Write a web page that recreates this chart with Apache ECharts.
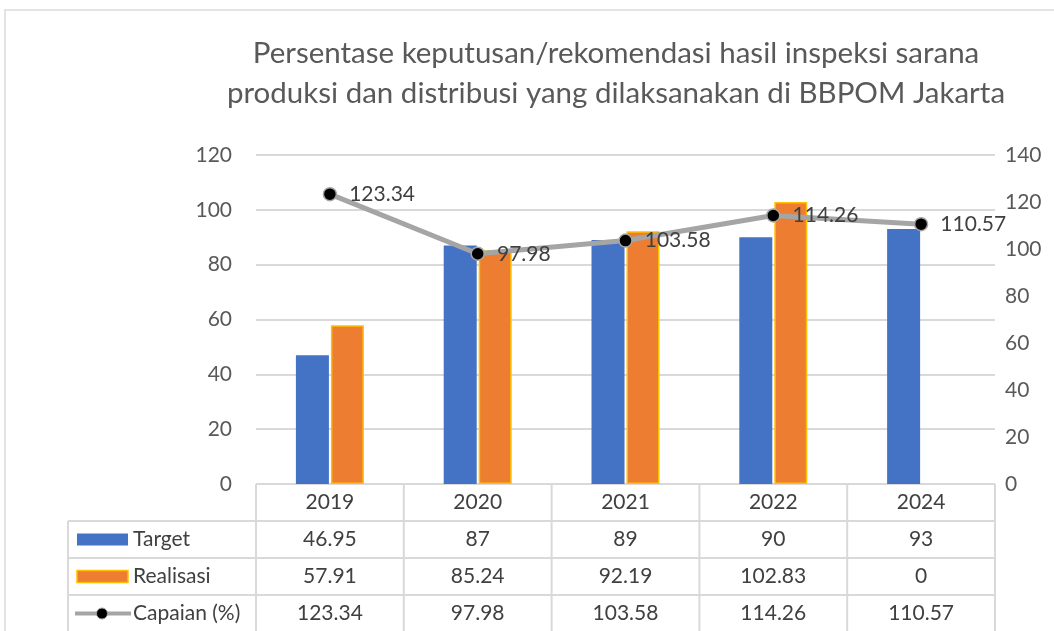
<!DOCTYPE html>
<html>
<head>
<meta charset="utf-8">
<script src="https://cdn.jsdelivr.net/npm/echarts@6/dist/echarts.min.js"></script>
<style>
html,body{margin:0;padding:0;background:#fff;}
#main{width:1054px;height:631px;}
</style>
</head>
<body>
<div id="main"></div>
<script>
// data
var years = ["2019", "2020", "2021", "2022", "2024"];
var target = [46.95, 87, 89, 90, 93];
var realisasi = [57.91, 85.24, 92.19, 102.83, 0];
var capaian = [123.34, 97.98, 103.58, 114.26, 110.57];
var seriesNames = ["Target", "Realisasi", "Capaian (%)"];

var FONT = "Lato";
var TXT = "#595959";
var LINE = "#D9D9D9";

// plot area
var gl = 256, gr = 995, gt = 155, gb = 484;
var colW = (gr - gl) / years.length;
var rowH = 37;
var legX = 68;

var myChart = echarts.init(document.getElementById("main"));

//表格
function buildTable() {
	var g = [];
	// outer frame
	g.push({type: "rect", shape: {x: 5, y: 10, width: 1100, height: 700}, style: {fill: null, stroke: "#E3E3E3", lineWidth: 2}, silent: true});
	g.push({type: "line", shape: {x1: gl, y1: gb, x2: gr, y2: gb}, style: {stroke: LINE, lineWidth: 2}});
	for (var i = 0; i <= years.length; i++) {
		var x = gl + i * colW;
		g.push({type: "line", shape: {x1: x, y1: gb, x2: x, y2: 640}, style: {stroke: LINE, lineWidth: 2}});
	}
	for (var r = 1; r <= 3; r++) {
		var y = gb + r * rowH;
		g.push({type: "line", shape: {x1: legX, y1: y, x2: gr, y2: y}, style: {stroke: LINE, lineWidth: 2}});
	}
	g.push({type: "line", shape: {x1: legX, y1: gb + rowH, x2: legX, y2: 640}, style: {stroke: LINE, lineWidth: 2}});
	// year labels
	for (var a = 0; a < years.length; a++) {
		g.push(cellText(gl + (a + 0.5) * colW, gb + rowH / 2, years[a], "center"));
	}
	var rows = [target, realisasi, capaian];
	for (var k = 0; k < rows.length; k++) {
		var cy = gb + (k + 1.5) * rowH;
		for (var j = 0; j < rows[k].length; j++) {
			g.push(cellText(gl + (j + 0.5) * colW, cy, String(rows[k][j]), "center"));
		}
		g.push(cellText(133, cy, seriesNames[k], "left"));
	}
	// legend keys
	var ky1 = gb + 1.5 * rowH, ky2 = gb + 2.5 * rowH, ky3 = gb + 3.5 * rowH;
	g.push({type: "rect", shape: {x: 77, y: ky1 - 6, width: 51, height: 12}, style: {fill: "#4472C4"}});
	g.push({type: "rect", shape: {x: 77, y: ky2 - 6, width: 51, height: 12}, style: {fill: "#ED7D31", stroke: "#FFC000", lineWidth: 1.5}});
	g.push({type: "line", shape: {x1: 75, y1: ky3, x2: 131, y2: ky3}, style: {stroke: "#A5A5A5", lineWidth: 4}});
	g.push({type: "circle", shape: {cx: 102, cy: ky3, r: 5.5}, style: {fill: "#000", stroke: "#A5A5A5", lineWidth: 1}});
	return g;
}
function cellText(x, y, t, align) {
	return {type: "text", x: x, y: y, style: {text: t, fill: "#404040", font: "21px " + FONT, align: align, verticalAlign: "middle"}};
}

var axisLbl = {color: TXT, fontSize: 21, fontFamily: FONT};

// bar with value 0 has no border
var realData = realisasi.map(function(v) {
	return v === 0 ? {value: v, itemStyle: {borderWidth: 0}} : v;
});

myChart.setOption({
	backgroundColor: "#fff",
	animation: false,
	title: {
		text: "Persentase keputusan/rekomendasi hasil inspeksi sarana\nproduksi dan distribusi yang dilaksanakan di BBPOM Jakarta",
		left: 611,
		top: 28,
		textAlign: "center",
		textStyle: {color: TXT, fontSize: 29.5, fontWeight: "normal", fontFamily: FONT, lineHeight: 40}
	},
	grid: {left: gl, right: 1054 - gr, top: gt, bottom: 631 - gb, containLabel: false},
	xAxis: {
		type: "category",
		data: years,
		axisLabel: {show: false},
		axisTick: {show: false},
		axisLine: {show: false}
	},
	yAxis: [{
		type: "value", min: 0, max: 120, interval: 20,
		axisLabel: Object.assign({margin: 24}, axisLbl),
		splitLine: {lineStyle: {color: LINE, width: 2}},
		axisLine: {show: false}, axisTick: {show: false}
	}, {
		type: "value", min: 0, max: 140, interval: 20,
		axisLabel: Object.assign({margin: 10}, axisLbl),
		splitLine: {show: false},
		axisLine: {show: false}, axisTick: {show: false}
	}],
	series: [{
		name: seriesNames[0], type: "bar", data: target,
		barWidth: 33, barGap: "6%",
		itemStyle: {color: "#4472C4"}
	}, {
		name: seriesNames[1], type: "bar", data: realData,
		barWidth: 33,
		itemStyle: {color: "#ED7D31", borderColor: "#FFC000", borderWidth: 1.5}
	}, {
		name: seriesNames[2], type: "line", yAxisIndex: 1, data: capaian,
		symbol: "circle", symbolSize: 13,
		lineStyle: {color: "#A5A5A5", width: 5},
		itemStyle: {color: "#000", borderColor: "#A5A5A5", borderWidth: 1.5},
		label: {show: true, position: "right", distance: 12, color: "#404040", fontSize: 21, fontFamily: FONT},
		z: 5
	}],
	graphic: buildTable()
});
</script>
</body>
</html>
